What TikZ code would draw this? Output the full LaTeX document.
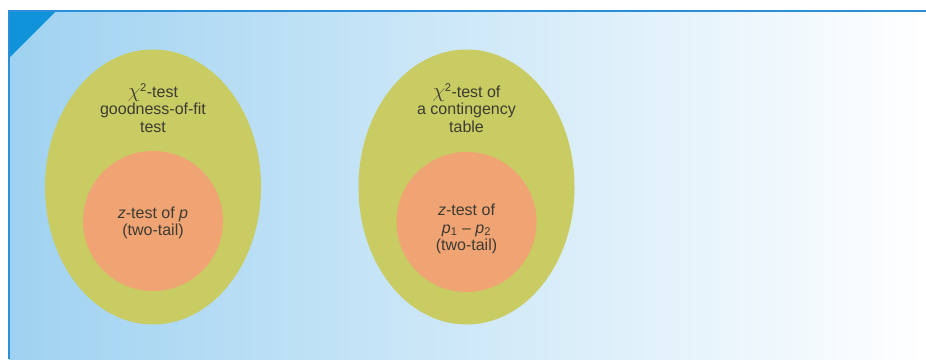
\documentclass[tikz,border=0pt]{standalone}
\usepackage{fontspec}
\setmainfont{Liberation Sans}
\usetikzlibrary{shapes.geometric}
\definecolor{bgblue}{HTML}{9FD2F1}
\definecolor{edgeblue}{HTML}{2A8FD6}
\definecolor{triblue}{HTML}{1193DB}
\definecolor{olive}{HTML}{C9CB63}
\definecolor{salmon}{HTML}{F0A373}
\definecolor{txt}{HTML}{3C3C32}
\newcommand{\chisq}{{\fontsize{20}{17}\selectfont$\chi$}\kern-0.5pt\textsuperscript{2}}
\tikzset{
  outer/.style={ellipse, fill=olive, minimum width=216pt, minimum height=275pt, inner sep=0pt},
  inner/.style={circle, fill=salmon, minimum size=140pt, inner sep=0pt},
  lbl/.style={text=txt, align=center, font=\fontsize{16}{17.5}\selectfont, inner sep=0pt}
}
\begin{document}
\begin{tikzpicture}[x=1pt,y=-1pt]
\useasboundingbox (0,0) rectangle (926,359);
\shade[left color=bgblue, right color=white] (9,11) rectangle (926,359);
\fill[triblue] (9,11) -- (56,11) -- (9,58) -- cycle;
\draw[edgeblue, line width=1.2pt] (926,11) -- (9,11) -- (9,359);
\node[outer] (e1) at (153,187) {};
\node[outer] (e2) at (466.5,187) {};
\node[inner] (c1) at (153,221) {};
\node[inner] (c2) at (466.5,222) {};
\node[lbl] (t1) at (153,108) {\chisq-test\\goodness-of-fit\\test};
\node[lbl] (t2) at (466.5,108) {\chisq-test of\\a contingency\\table};
\node[lbl] (u1) at (153,223) {\textit{z}-test of \textit{p}\\(two-tail)};
\node[lbl] (u2) at (466.5,229) {\textit{z}-test of\\\textit{p}\textsubscript{1} – \textit{p}\textsubscript{2}\\(two-tail)};
\end{tikzpicture}
\end{document}
